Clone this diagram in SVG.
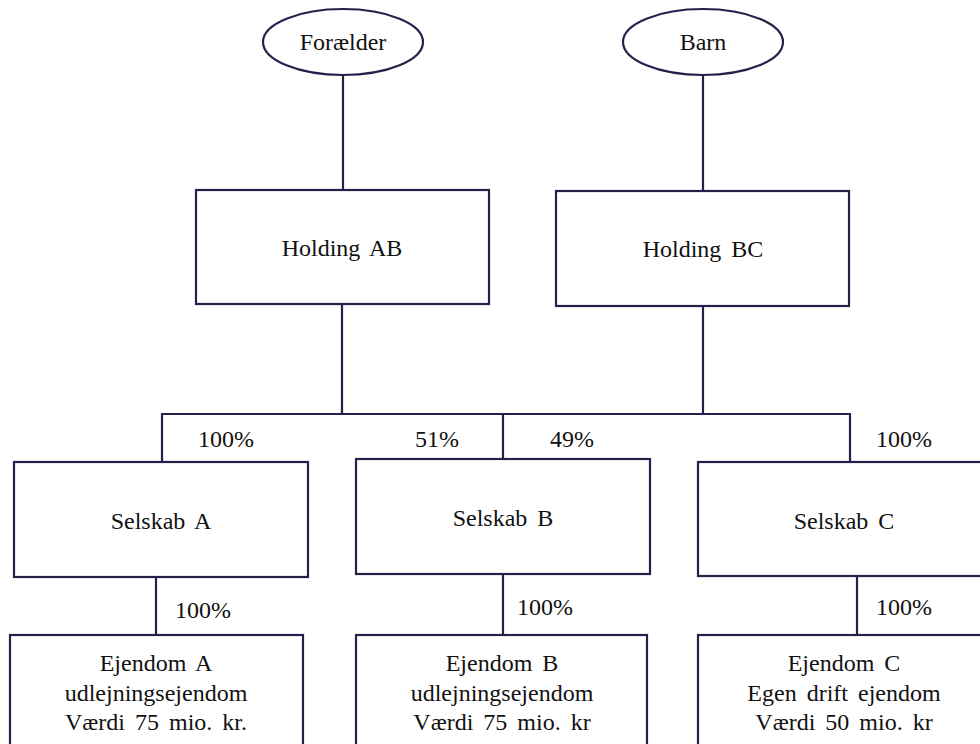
<svg xmlns="http://www.w3.org/2000/svg" width="980" height="744" viewBox="0 0 980 744">
<style>
.shape{fill:#ffffff;stroke:#22224a;stroke-width:2.2}
.conn line{stroke:#22224a;stroke-width:2.2}
.t text{font-family:'Liberation Serif','Times New Roman','DejaVu Serif',serif;font-size:24px;fill:#111111;text-anchor:middle;word-spacing:4px}
</style>
<rect width="980" height="744" fill="#ffffff"/>
<g id="connectors" class="conn">
<line x1="343" y1="75" x2="343" y2="190"/>
<line x1="703" y1="75" x2="703" y2="191"/>
<line x1="342" y1="304" x2="342" y2="414"/>
<line x1="703" y1="306" x2="703" y2="414"/>
<line x1="161" y1="414" x2="851" y2="414"/>
<line x1="162" y1="414" x2="162" y2="462"/>
<line x1="503" y1="414" x2="503" y2="459"/>
<line x1="850" y1="414" x2="850" y2="462"/>
<line x1="156" y1="577" x2="156" y2="635"/>
<line x1="503" y1="574" x2="503" y2="635"/>
<line x1="857" y1="576" x2="857" y2="635"/>
</g>
<g class="t">
<g id="labels">
<text x="226" y="447">100%</text>
<text x="437" y="447">51%</text>
<text x="572" y="447">49%</text>
<text x="904" y="447">100%</text>
<text x="203" y="618">100%</text>
<text x="545" y="615">100%</text>
<text x="904" y="615">100%</text>
</g>
<g id="foraelder">
<ellipse class="shape" cx="343" cy="42" rx="80" ry="33"/>
<text x="343" y="50">Forælder</text>
</g>
<g id="barn">
<ellipse class="shape" cx="703" cy="42" rx="80" ry="33"/>
<text x="703" y="50">Barn</text>
</g>
<g id="holding-ab">
<rect class="shape" x="196" y="190" width="293" height="114"/>
<text x="342" y="256">Holding AB</text>
</g>
<g id="holding-bc">
<rect class="shape" x="556" y="191" width="293" height="115"/>
<text x="703" y="257">Holding BC</text>
</g>
<g id="selskab-a">
<rect class="shape" x="14" y="462" width="294" height="115"/>
<text x="161" y="529">Selskab A</text>
</g>
<g id="selskab-b">
<rect class="shape" x="356" y="459" width="294" height="115"/>
<text x="503" y="526">Selskab B</text>
</g>
<g id="selskab-c">
<rect class="shape" x="698" y="462" width="292" height="114"/>
<text x="844" y="529">Selskab C</text>
</g>
<g id="ejendom-a">
<rect class="shape" x="10" y="635" width="293" height="120"/>
<text x="156" y="671">Ejendom A</text>
<text x="156" y="701">udlejningsejendom</text>
<text x="156" y="730">Værdi 75 mio. kr.</text>
</g>
<g id="ejendom-b">
<rect class="shape" x="356" y="635" width="291" height="120"/>
<text x="502" y="671">Ejendom B</text>
<text x="502" y="701">udlejningsejendom</text>
<text x="502" y="730">Værdi 75 mio. kr</text>
</g>
<g id="ejendom-c">
<rect class="shape" x="698" y="635" width="292" height="120"/>
<text x="844" y="671">Ejendom C</text>
<text x="844" y="701">Egen drift ejendom</text>
<text x="844" y="730">Værdi 50 mio. kr</text>
</g>
</g>
</svg>
